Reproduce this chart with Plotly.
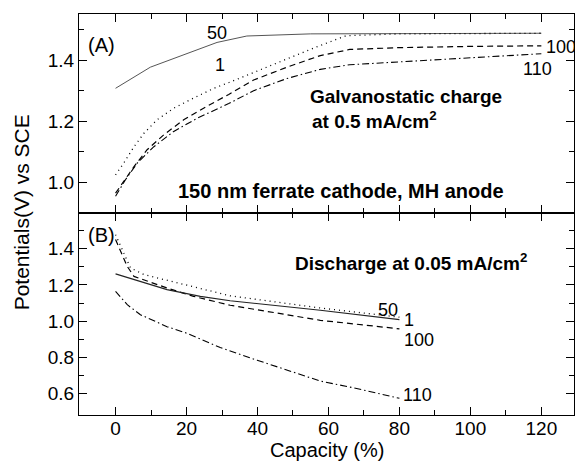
import plotly.graph_objects as go

# ---- Panel A: galvanostatic charge curves (cycle number -> curve) ----
chg_50_x = [0, 9.8, 28.6, 37, 55, 120]
chg_50_y = [1.308, 1.377, 1.458, 1.479, 1.486, 1.488]

chg_1_x = [0, 2.3, 5.2, 8, 11.7, 16.4, 22, 27.7, 32, 39, 48, 57, 65, 80, 100, 120]
chg_1_y = [1.025, 1.063, 1.117, 1.161, 1.205, 1.243, 1.276, 1.308, 1.327, 1.360,
           1.40, 1.445, 1.48, 1.486, 1.487, 1.488]

chg_100_x = [0, 2.3, 5.2, 8.9, 13.6, 19.2, 24.8, 31.9, 38.9, 48.3, 57.7, 66, 80, 100, 120]
chg_100_y = [0.965, 1.003, 1.052, 1.107, 1.156, 1.205, 1.243, 1.288, 1.335, 1.377,
             1.415, 1.435, 1.441, 1.445, 1.447]

chg_110_x = [0, 2.8, 6.1, 10.8, 16.4, 23, 31.9, 38.9, 48.3, 57.7, 66, 80, 91.4, 105, 120]
chg_110_y = [0.955, 1.009, 1.063, 1.117, 1.167, 1.21, 1.258, 1.300, 1.340, 1.370,
             1.385, 1.395, 1.401, 1.411, 1.421]

# ---- Panel B: discharge curves ----
dis_50_x = [0, 8, 14.5, 23.9, 32.3, 57.7, 80]
dis_50_y = [1.261, 1.211, 1.174, 1.137, 1.113, 1.06, 1.009]

dis_1_x = [0, 1.4, 2.8, 4.2, 8, 14.5, 22, 32.3, 57.7, 80]
dis_1_y = [1.477, 1.413, 1.349, 1.294, 1.257, 1.225, 1.192, 1.14, 1.073, 1.022]

dis_100_x = [0, 1.4, 3.3, 5.2, 8.9, 14.5, 22, 32.3, 57.7, 80]
dis_100_y = [1.45, 1.385, 1.302, 1.247, 1.22, 1.183, 1.137, 1.088, 1.005, 0.958]

dis_110_x = [0, 3.3, 7, 9.8, 14.5, 19.9, 29.5, 39.9, 50.2, 57.7, 67, 80]
dis_110_y = [1.165, 1.091, 1.036, 1.013, 0.97, 0.935, 0.855, 0.785, 0.72, 0.67, 0.633, 0.575]

x_ticks = [0, 20, 40, 60, 80, 100, 120]
x_minor = [10, 30, 50, 70, 90, 110]
ya_ticks = [1.0, 1.2, 1.4]
ya_minor = [1.1, 1.3, 1.5]
yb_ticks = [0.6, 0.8, 1.0, 1.2, 1.4]
yb_minor = [0.7, 0.9, 1.1, 1.3, 1.5]

FONT = "Liberation Sans, Arial, sans-serif"
SOLID = dict(color="#222", width=1.1)
DOT = dict(color="black", width=1.3, dash="1px,4px")
DASH = dict(color="black", width=1.2, dash="6px,4px")
DASHDOT = dict(color="black", width=1.1, dash="7px,3px,1.5px,3px")

fig = go.Figure()

def add(x, y, line, xa, ya):
    fig.add_trace(go.Scatter(x=x, y=y, mode="lines", line=line,
                             xaxis=xa, yaxis=ya, showlegend=False,
                             hoverinfo="skip"))

add(chg_50_x, chg_50_y, dict(color="#555", width=1.0), "x", "y")
add(chg_1_x, chg_1_y, DOT, "x", "y")
add(chg_100_x, chg_100_y, DASH, "x", "y")
add(chg_110_x, chg_110_y, DASHDOT, "x", "y")

add(dis_1_x, dis_1_y, DOT, "x2", "y2")
add(dis_100_x, dis_100_y, DASH, "x2", "y2")
add(dis_50_x, dis_50_y, SOLID, "x2", "y2")
add(dis_110_x, dis_110_y, DASHDOT, "x2", "y2")

xrange = [-10.3, 129.2]
common_axis = dict(showline=True, linecolor="black", linewidth=1.3, mirror="allticks",
                   ticks="inside", ticklen=8, tickwidth=1.1, tickcolor="black",
                   showgrid=False, zeroline=False,
                   tickfont=dict(family=FONT, size=19, color="black"))

split = 0.5044
fig.update_layout(
    width=575, height=463,
    margin=dict(l=79, r=1, t=14, b=47.5),
    plot_bgcolor="white", paper_bgcolor="white",
    xaxis=dict(common_axis, range=xrange, anchor="y", tickvals=x_ticks,
               showticklabels=False,
               minor=dict(tickvals=x_minor, ticks="inside", ticklen=5, tickcolor="black")),
    yaxis=dict(common_axis, range=[0.901, 1.551], domain=[split, 1], anchor="x",
               tickvals=ya_ticks, ticktext=["1.0", "1.2", "1.4"],
               minor=dict(tickvals=ya_minor, ticks="inside", ticklen=5, tickcolor="black")),
    xaxis2=dict(common_axis, range=xrange, anchor="y2", tickvals=x_ticks,
                ticklabelstandoff=-4,
                minor=dict(tickvals=x_minor, ticks="inside", ticklen=5, tickcolor="black")),
    yaxis2=dict(common_axis, range=[0.483, 1.598], domain=[0, split], anchor="x2",
                tickvals=yb_ticks, ticktext=["0.6", "0.8", "1.0", "1.2", "1.4"],
                minor=dict(tickvals=yb_minor, ticks="inside", ticklen=5, tickcolor="black")),
)

def note(text, x, y, xref, yref, size=17, xanchor="center", **kw):
    fig.add_annotation(text=text, x=x, y=y, xref=xref, yref=yref, showarrow=False,
                       xanchor=xanchor, yanchor="middle",
                       font=dict(family=FONT, size=size, color="black"), **kw)

# panel A labels
note("(A)", -3.9, 1.45, "x", "y", size=20)
note("50", 28.7, 1.490, "x", "y", size=18)
note("1", 29.5, 1.385, "x", "y", size=18)
note("100", 125.6, 1.442, "x", "y", size=18)
note("110", 118.8, 1.370, "x", "y", size=18)
note("<b>Galvanostatic charge</b>", 54.3, 1.28, "x", "y", size=19, xanchor="left")
note("<b>at 0.5 mA/cm<sup>2</sup></b>", 54.9, 1.205, "x", "y", size=19, xanchor="left")
note("<b>150 nm ferrate cathode, MH anode</b>", 16.9, 0.973, "x", "y", size=20, xanchor="left")

# panel B labels
note("(B)", -3.9, 1.477, "x2", "y2", size=20)
note("<b>Discharge at 0.05 mA/cm<sup>2</sup></b>", 50.1, 1.325, "x2", "y2", size=19, xanchor="left")
note("50", 76.8, 1.064, "x2", "y2", size=18)
note("1", 82.7, 1.006, "x2", "y2", size=18)
note("100", 85.5, 0.898, "x2", "y2", size=18)
note("110", 85.2, 0.593, "x2", "y2", size=18)

# axis titles
note("Capacity (%)", 0.5, -0.088, "paper", "paper", size=20)
note("Potentials(V) vs SCE", -0.117, 0.5056, "paper", "paper", size=21, textangle=-90)

fig.write_html("out.html")
